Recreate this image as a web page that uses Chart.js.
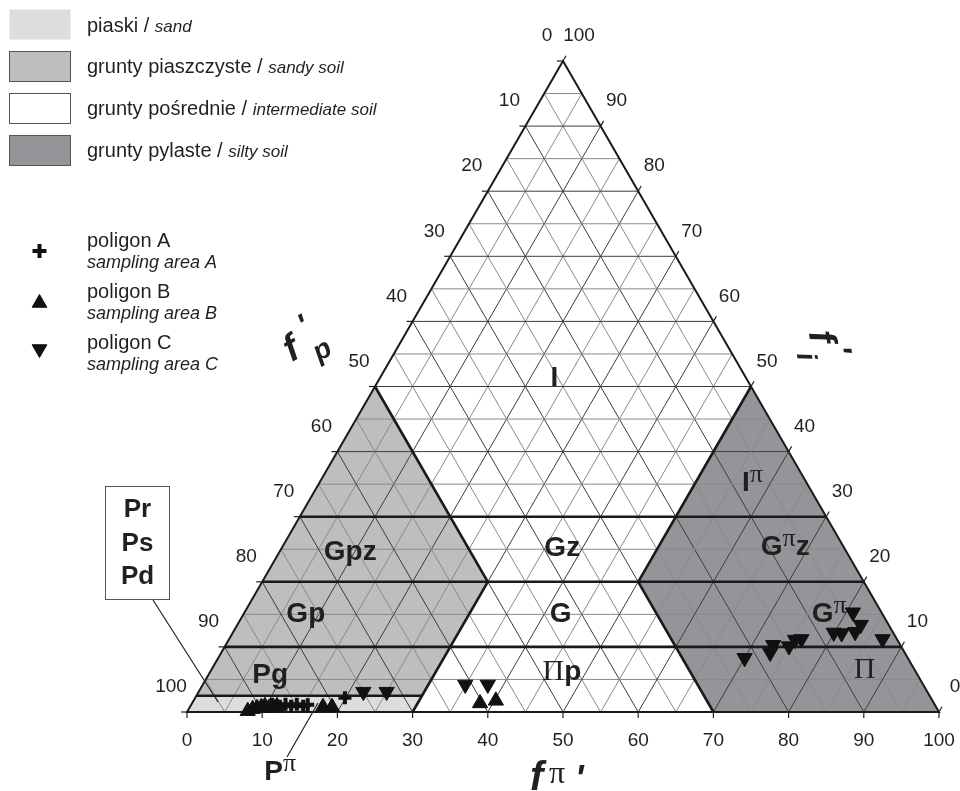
<!DOCTYPE html>
<html><head><meta charset="utf-8">
<script src="https://cdn.jsdelivr.net/npm/chart.js@4/dist/chart.umd.min.js"></script>
<style>html,body{margin:0;padding:0;background:#fff}canvas{display:block}</style>
</head><body>
<canvas id="c" width="960" height="791"></canvas>
<script>
// ---- axis ticks (ternary, every 10) ----
const tickValues = [0, 10, 20, 30, 40, 50, 60, 70, 80, 90, 100];
const bottomTickLabels = ['0','10','20','30','40','50','60','70','80','90','100'];

// ---- class boundaries (fπ', fi') ----
const sandTopFi = 2.5;
const sandyMaxFpi = 30;
const sandyDiagSum = 50;
const siltyMinFpi = 50;
const siltyDiagSum = 70;
const thickFiLines = [10, 20, 30];

// ---- samples, ternary (fπ', fi') ----
const polyA_fpi = [10.7, 11.9, 12.5, 13.4, 14.0, 15.0, 15.5, 19.9];
const polyA_fi  = [1.2, 0.9, 1.2, 0.9, 1.2, 0.9, 1.1, 2.2];
const polyB_fpi = [8.0, 8.5, 9.0, 9.5, 9.9, 10.6, 11.1, 11.5, 17.7, 18.9, 38.3, 40.2];
const polyB_fi  = [0.15, 0.46, 0.61, 0.77, 0.92, 0.61, 0.77, 0.92, 0.77, 0.77, 1.34, 1.74];
const polyC_fpi = [21.9, 25.0, 34.9, 37.9, 70.0, 73.0, 72.8, 75.0, 75.3, 76.1, 79.9, 81.0, 82.7, 82.9, 80.9, 86.9];
const polyC_fi  = [3.1, 3.1, 4.2, 4.2, 8.3, 9.1, 10.3, 10.1, 11.1, 11.2, 12.2, 12.1, 12.3, 13.4, 15.3, 11.2];

// ---- class names ----
const classNames = [
  [['I','b']], [['I','b'],['π','pi']], [['G','b'],['π','pi'],['z','b']], [['G','b'],['z','b']],
  [['G','b'],['p','b'],['z','b']], [['G','b']], [['G','b'],['p','b']], [['G','b'],['π','pi']],
  [['Π','PI'],['p','b']], [['Π','PI']], [['P','b'],['g','b']], [['P','b'],['π','pi']]
];
const classFpi = [23.8, 58.2, 67.5, 37.9, 10.0, 42.8, 8.9, 78.5, 47.4, 87.5, 8.8, 17.6];
const classFi  = [50.1, 34.0, 24.1, 24.0, 23.4, 13.8, 13.8, 13.8, 4.9, 5.2, 4.5, -10.4];

const H = Math.sqrt(3) / 2;
const tern = (fpi, fi) => ({ x: fpi + fi / 2, y: fi * H });
const toPts = (a, b) => a.map((v, i) => tern(v, b[i]));

const TXT = '#231f20';
const SANS = '"Liberation Sans", Arial, sans-serif';
const SERIF = '"Liberation Serif", "Times New Roman", serif';
const ST = {
  b:  { font: 'bold 28px ' + SANS, dy: 0 },
  pi: { font: '26px ' + SERIF, dy: -9 },
  PI: { font: '30px ' + SERIF, dy: 0 }
};

function P(c, fpi, fi) {
  const t = tern(fpi, fi);
  return { x: c.scales.x.getPixelForValue(t.x), y: c.scales.y.getPixelForValue(t.y) };
}
function poly(ctx, c, pts, fill) {
  ctx.beginPath();
  pts.forEach((p, i) => { const q = P(c, p[0], p[1]); i ? ctx.lineTo(q.x, q.y) : ctx.moveTo(q.x, q.y); });
  ctx.closePath(); ctx.fillStyle = fill; ctx.fill();
}
function seg(ctx, c, a, b, col, w) {
  const p = P(c, a[0], a[1]), q = P(c, b[0], b[1]);
  ctx.beginPath(); ctx.moveTo(p.x, p.y); ctx.lineTo(q.x, q.y);
  ctx.strokeStyle = col; ctx.lineWidth = w; ctx.stroke();
}
function drawParts(ctx, parts, cx, by) {
  let w = 0;
  parts.forEach(p => { ctx.font = ST[p[1]].font; w += ctx.measureText(p[0]).width; });
  let x = cx - w / 2;
  ctx.textAlign = 'left'; ctx.textBaseline = 'alphabetic';
  parts.forEach(p => { const s = ST[p[1]]; ctx.font = s.font; ctx.fillText(p[0], x, by + s.dy); x += ctx.measureText(p[0]).width; });
}

const ternaryPlugin = {
  id: 'ternary',
  beforeDatasetsDraw(c) {
    const ctx = c.ctx;
    ctx.save();
    // region fills
    poly(ctx, c, [[0,0],[100,0],[0,100]], '#ffffff');
    poly(ctx, c, [[0,0],[sandyMaxFpi,0],[sandyMaxFpi,sandTopFi],[0,sandTopFi]], '#dcddde');
    poly(ctx, c, [[0,sandTopFi],[sandyMaxFpi,sandTopFi],[sandyMaxFpi,sandyDiagSum-sandyMaxFpi],[0,sandyDiagSum]], '#bcbec0');
    poly(ctx, c, [[siltyDiagSum,0],[100,0],[siltyMinFpi,100-siltyMinFpi],[siltyMinFpi,siltyDiagSum-siltyMinFpi]], '#939598');
    // grid
    for (let k = 5; k < 100; k += 5) {
      const col = k % 10 === 0 ? '#3c3c3c' : '#8a8a8a';
      seg(ctx, c, [0,k], [100-k,k], col, 1);
      seg(ctx, c, [k,0], [k,100-k], col, 1);
      seg(ctx, c, [100-k,0], [0,100-k], col, 1);
    }
    // class boundaries
    const K = '#1a1a1a', TW = 2.6;
    thickFiLines.forEach(f => seg(ctx, c, [0,f], [100-f,f], K, TW));
    seg(ctx, c, [0,sandTopFi], [sandyMaxFpi,sandTopFi], K, TW);
    seg(ctx, c, [sandyMaxFpi,0], [sandyMaxFpi,sandyDiagSum-sandyMaxFpi], K, TW);
    seg(ctx, c, [sandyMaxFpi,sandyDiagSum-sandyMaxFpi], [0,sandyDiagSum], K, TW);
    seg(ctx, c, [siltyDiagSum,0], [siltyMinFpi,siltyDiagSum-siltyMinFpi], K, TW);
    seg(ctx, c, [siltyMinFpi,siltyDiagSum-siltyMinFpi], [siltyMinFpi,100-siltyMinFpi], K, TW);
    // outline
    ctx.beginPath();
    [[0,0],[100,0],[0,100]].forEach((p, i) => { const q = P(c, p[0], p[1]); i ? ctx.lineTo(q.x, q.y) : ctx.moveTo(q.x, q.y); });
    ctx.closePath(); ctx.lineJoin = 'miter'; ctx.strokeStyle = K; ctx.lineWidth = 2; ctx.stroke();
    // ticks + tick labels
    ctx.fillStyle = TXT; ctx.strokeStyle = '#222'; ctx.lineWidth = 1.2;
    ctx.font = '19px ' + SANS; ctx.textAlign = 'center'; ctx.textBaseline = 'middle';
    tickValues.forEach((v, i) => {
      // bottom axis fπ'
      const b = P(c, v, 0);
      ctx.beginPath(); ctx.moveTo(b.x, b.y); ctx.lineTo(b.x, b.y + 6); ctx.stroke();
      ctx.fillText(bottomTickLabels[i], b.x, b.y + 29);
      // left axis fp' (value = 100 - fi)
      const l = P(c, 0, v);
      ctx.beginPath(); ctx.moveTo(l.x, l.y); ctx.lineTo(l.x - 6, l.y); ctx.stroke();
      ctx.fillText(String(100 - v), l.x - 16, l.y - 25);
      // right axis fi'
      const r = P(c, 100 - v, v);
      ctx.beginPath(); ctx.moveTo(r.x, r.y); ctx.lineTo(r.x + 3, r.y - 5.2); ctx.stroke();
      ctx.fillText(String(v), r.x + 16, r.y - 25);
    });
    // class names
    ctx.fillStyle = TXT;
    classNames.forEach((parts, i) => {
      const p = P(c, classFpi[i], classFi[i]);
      drawParts(ctx, parts, p.x, p.y);
    });
    ctx.restore();
  },
  afterDraw(c) {
    const ctx = c.ctx;
    ctx.save();
    ctx.fillStyle = TXT; ctx.strokeStyle = '#222';
    // pointer lines
    ctx.lineWidth = 1.2;
    ctx.beginPath(); ctx.moveTo(287, 757); ctx.lineTo(318, 703); ctx.stroke();
    ctx.beginPath(); ctx.moveTo(153, 600); ctx.lineTo(218, 702); ctx.stroke();
    // Pr Ps Pd box
    ctx.fillStyle = '#fff'; ctx.fillRect(105.5, 486.5, 64, 113);
    ctx.strokeStyle = '#555'; ctx.lineWidth = 1; ctx.strokeRect(105.5, 486.5, 64, 113);
    ctx.fillStyle = TXT; ctx.font = 'bold 26px ' + SANS; ctx.textAlign = 'center'; ctx.textBaseline = 'alphabetic';
    ctx.fillText('Pr', 137.5, 517); ctx.fillText('Ps', 137.5, 551); ctx.fillText('Pd', 137.5, 584);

    // axis titles
    ctx.textAlign = 'left'; ctx.textBaseline = 'alphabetic';
    ctx.font = 'bold italic 40px ' + SANS; ctx.fillText('f', 530, 790);
    ctx.font = '32px ' + SERIF; ctx.fillText('π', 549, 783);
    ctx.font = 'bold italic 36px ' + SANS; ctx.fillText("'", 575, 791);
    ctx.textAlign = 'center'; ctx.textBaseline = 'middle';
    // left title f'p
    ctx.save(); ctx.translate(292, 350); ctx.rotate(-30 * Math.PI / 180);
    ctx.font = 'bold italic 38px ' + SANS; ctx.fillText('f', 0, 0);
    ctx.font = 'bold italic 32px ' + SANS; ctx.fillText("'", 22, -14);
    ctx.font = 'bold italic 28px ' + SANS; ctx.fillText('p', 26, 16);
    ctx.restore();
    // right title f'i
    ctx.save(); ctx.translate(820, 337); ctx.rotate(81 * Math.PI / 180);
    ctx.font = 'bold italic 38px ' + SANS; ctx.fillText('f', 0, 0);
    ctx.font = 'bold italic 32px ' + SANS; ctx.fillText("'", 16, -16);
    ctx.font = 'bold italic 28px ' + SANS; ctx.fillText('i', 17, 18);
    ctx.restore();

    // legend: classes
    const sw = [['#dcddde', false], ['#bcbec0', true], ['#ffffff', true], ['#939598', true]];
    const swY = [9, 51, 93, 135];
    const lgTxt = [['piaski / ', 'sand'], ['grunty piaszczyste / ', 'sandy soil'], ['grunty pośrednie / ', 'intermediate soil'], ['grunty pylaste / ', 'silty soil']];
    const lgBase = [32, 73, 115, 157];
    ctx.textAlign = 'left'; ctx.textBaseline = 'alphabetic';
    sw.forEach((s, i) => {
      ctx.fillStyle = s[0]; ctx.fillRect(9.5, swY[i] + 0.5, 61, 30);
      if (s[1]) { ctx.strokeStyle = '#555'; ctx.lineWidth = 1; ctx.strokeRect(9.5, swY[i] + 0.5, 61, 30); }
      ctx.fillStyle = TXT;
      ctx.font = '20px ' + SANS; ctx.fillText(lgTxt[i][0], 87, lgBase[i]);
      const w = ctx.measureText(lgTxt[i][0]).width;
      ctx.font = 'italic 17px ' + SANS; ctx.fillText(lgTxt[i][1], 87 + w, lgBase[i]);
    });
    // legend: samples
    const mk = [
      { pointStyle: 'cross', rotation: 0, radius: 7, borderWidth: 4, y: 251 },
      { pointStyle: 'triangle', rotation: 0, radius: 8.5, borderWidth: 1, y: 303 },
      { pointStyle: 'triangle', rotation: 180, radius: 8.5, borderWidth: 1, y: 349 }
    ];
    const mkTxt = [['poligon A', 'sampling area A'], ['poligon B', 'sampling area B'], ['poligon C', 'sampling area C']];
    const mkBase = [[247, 268], [298, 319], [349, 370]];
    mk.forEach((m, i) => {
      ctx.fillStyle = '#111'; ctx.strokeStyle = '#111'; ctx.lineWidth = m.borderWidth;
      Chart.helpers.drawPoint(ctx, m, 39.5, m.y);
      ctx.fillStyle = TXT;
      ctx.font = '20px ' + SANS; ctx.fillText(mkTxt[i][0], 87, mkBase[i][0]);
      ctx.font = 'italic 18px ' + SANS; ctx.fillText(mkTxt[i][1], 87, mkBase[i][1]);
    });
    ctx.restore();
  }
};

const markerCommon = { pointBackgroundColor: '#111', pointBorderColor: '#111', showLine: false, clip: false };
new Chart(document.getElementById('c'), {
  type: 'scatter',
  data: {
    datasets: [
      Object.assign({ label: 'poligon A', data: toPts(polyA_fpi, polyA_fi), pointStyle: 'cross', pointRadius: 6.5, pointBorderWidth: 4 }, markerCommon),
      Object.assign({ label: 'poligon B', data: toPts(polyB_fpi, polyB_fi), pointStyle: 'triangle', pointRadius: 8.8, pointBorderWidth: 1 }, markerCommon),
      Object.assign({ label: 'poligon C', data: toPts(polyC_fpi, polyC_fi), pointStyle: 'triangle', pointRotation: 180, pointRadius: 8.8, pointBorderWidth: 1 }, markerCommon)
    ]
  },
  options: {
    responsive: false,
    animation: false,
    events: [],
    layout: { padding: { left: 187, right: 21, top: 61, bottom: 79 } },
    plugins: { legend: { display: false }, tooltip: { enabled: false } },
    scales: {
      x: { type: 'linear', min: 0, max: 100, display: false },
      y: { type: 'linear', min: 0, max: 100 * H, display: false }
    }
  },
  plugins: [ternaryPlugin]
});
</script>
</body></html>
